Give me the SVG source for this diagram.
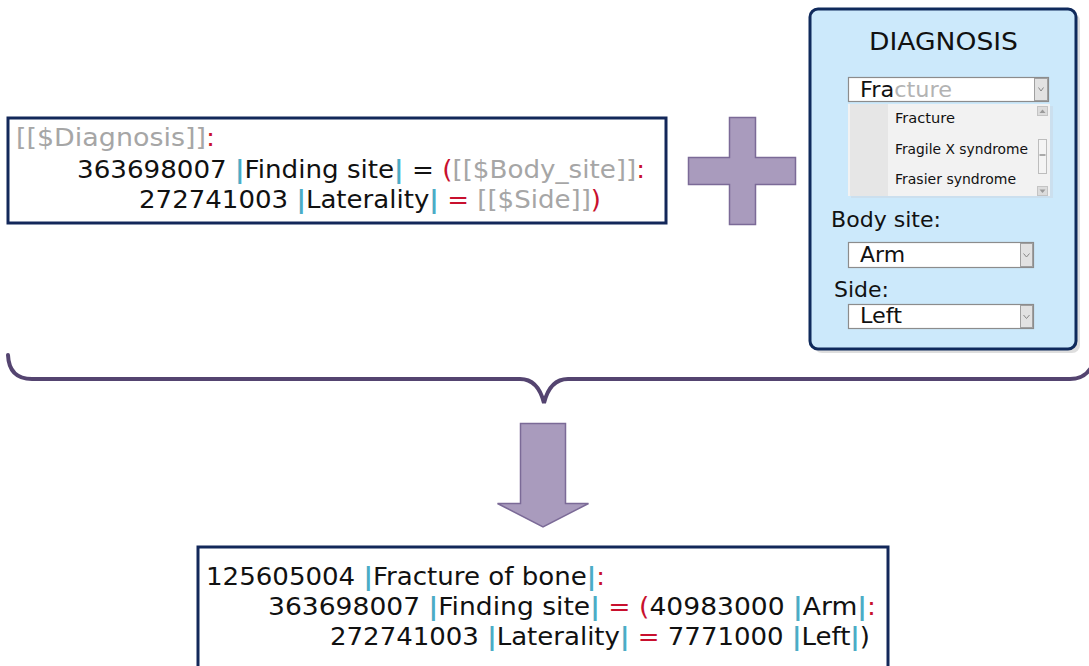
<svg xmlns="http://www.w3.org/2000/svg" width="1089" height="666" viewBox="0 0 1089 666">
<defs>
<style>
.t{font-family:"DejaVu Sans","Liberation Sans",sans-serif;font-size:24px;fill:#111}
.g{fill:#a6a6a6}
.p{fill:#4bacc6;font-weight:bold}
.r{fill:#c8102e}
.box{fill:#fff;stroke:#13285a;stroke-width:3}
.ui{font-family:"DejaVu Sans","Liberation Sans",sans-serif;fill:#111}
.dd{fill:#fff;stroke:#8c8c8c;stroke-width:1.2}
.btn{fill:#e2e2e2;stroke:#a0a0a0;stroke-width:1}
.chev{fill:none;stroke:#888;stroke-width:1}
.shape{fill:#a99bbd;stroke:#7b6a97;stroke-width:1.5}
</style>
<linearGradient id="bg" x1="0" y1="0" x2="1" y2="0">
<stop offset="0" stop-color="#f2f2f2"/><stop offset="1" stop-color="#d4d4d4"/>
</linearGradient>
</defs>

<g id="template">
<rect class="box" x="8" y="118" width="658" height="105"/>
<text class="t" x="16" y="146" textLength="199" lengthAdjust="spacingAndGlyphs"><tspan class="g">[[$Diagnosis]]</tspan><tspan class="r">:</tspan></text>
<text class="t" x="77" y="178" textLength="568" lengthAdjust="spacingAndGlyphs">363698007 <tspan class="p">|</tspan>Finding site<tspan class="p">|</tspan> = <tspan class="r">(</tspan><tspan class="g">[[$Body_site]]</tspan><tspan class="r">:</tspan></text>
<text class="t" x="139" y="208" textLength="462" lengthAdjust="spacingAndGlyphs">272741003 <tspan class="p">|</tspan>Laterality<tspan class="p">|</tspan> <tspan class="r">=</tspan> <tspan class="g">[[$Side]]</tspan><tspan class="r">)</tspan></text>
</g>

<g id="plus">
<path class="shape" d="M729.5,117.5 H755.5 V157.5 H795.5 V184.5 H755.5 V224.5 H729.5 V184.5 H688.5 V157.5 H729.5 Z"/>
</g>

<g id="form">
<rect x="814" y="13" width="266" height="340" rx="8" fill="#c8c8c8" opacity="0.6"/>
<rect x="810" y="9" width="266" height="340" rx="8" fill="#cce9fb" stroke="#0f2a5c" stroke-width="3"/>
<text class="ui" x="869" y="50" font-size="24" textLength="149" lengthAdjust="spacingAndGlyphs">DIAGNOSIS</text>

<rect class="dd" x="848.5" y="77.5" width="200" height="24"/>
<rect class="btn" x="1034.5" y="78.5" width="13" height="22" fill="url(#bg)"/>
<path class="chev" d="M1038.5,87.5 L1041,91 L1043.5,87.5"/>
<text class="ui" x="860" y="97" font-size="21" textLength="92" lengthAdjust="spacingAndGlyphs">Fra<tspan fill="#b3b3b3">cture</tspan></text>

<rect x="851" y="106" width="202" height="92" fill="#c9d9e6" opacity="0.6"/>
<rect x="848" y="104" width="202" height="92" fill="#f2f2f2"/>
<rect x="850" y="104" width="38" height="92" fill="#e6e6e6"/>
<text class="ui" x="895" y="123" font-size="14" textLength="60" lengthAdjust="spacingAndGlyphs">Fracture</text>
<text class="ui" x="895" y="154" font-size="14" textLength="133" lengthAdjust="spacingAndGlyphs">Fragile X syndrome</text>
<text class="ui" x="895" y="184" font-size="14" textLength="121" lengthAdjust="spacingAndGlyphs">Frasier syndrome</text>
<rect x="1037.5" y="106.5" width="10" height="9" fill="#dcdcdc" stroke="#c4c4c4"/>
<path d="M1039.5,113 L1042.5,109.5 L1045.5,113 Z" fill="#9a9a9a"/>
<rect x="1038.5" y="139.5" width="8" height="34" fill="#f4f4f4" stroke="#bdbdbd"/>
<rect x="1039.5" y="154" width="6" height="2" fill="#aaa"/>
<rect x="1037.5" y="186.5" width="10" height="9" fill="#dcdcdc" stroke="#c4c4c4"/>
<path d="M1039.5,189.5 L1042.5,193 L1045.5,189.5 Z" fill="#9a9a9a"/>

<text class="ui" x="831" y="227" font-size="22" textLength="110" lengthAdjust="spacingAndGlyphs">Body site:</text>
<rect class="dd" x="848.5" y="242.5" width="185" height="25"/>
<rect class="btn" x="1020.5" y="243.5" width="12" height="23" fill="url(#bg)"/>
<path class="chev" d="M1023.5,253.5 L1026.5,257 L1029.5,253.5"/>
<text class="ui" x="860" y="262" font-size="22" textLength="45" lengthAdjust="spacingAndGlyphs">Arm</text>

<text class="ui" x="834" y="297" font-size="22" textLength="55" lengthAdjust="spacingAndGlyphs">Side:</text>
<rect class="dd" x="848.5" y="304.5" width="185" height="24"/>
<rect class="btn" x="1020.5" y="305.5" width="12" height="22" fill="url(#bg)"/>
<path class="chev" d="M1023.5,315 L1026.5,318.5 L1029.5,315"/>
<text class="ui" x="860" y="323" font-size="22" textLength="42" lengthAdjust="spacingAndGlyphs">Left</text>
</g>

<g id="connectors">
<path d="M8,355 Q9,379 32,379 H520 Q538,379 544,403 Q550,379 568,379 H1070 Q1085,379 1092,366" fill="none" stroke="#544470" stroke-width="4" stroke-linecap="round"/>
<path class="shape" d="M520.5,423.5 H565.5 V503.5 H588.5 L543,527 L497.5,503.5 H520.5 Z"/>
</g>

<g id="result">
<rect class="box" x="198" y="547" width="690" height="125"/>
<text class="t" x="206" y="585" textLength="399" lengthAdjust="spacingAndGlyphs">125605004 <tspan class="p">|</tspan>Fracture of bone<tspan class="p">|</tspan><tspan class="r">:</tspan></text>
<text class="t" x="268" y="615" textLength="608" lengthAdjust="spacingAndGlyphs">363698007 <tspan class="p">|</tspan>Finding site<tspan class="p">|</tspan> <tspan class="r">= (</tspan>40983000 <tspan class="p">|</tspan>Arm<tspan class="p">|</tspan><tspan class="r">:</tspan></text>
<text class="t" x="330" y="645" textLength="540" lengthAdjust="spacingAndGlyphs">272741003 <tspan class="p">|</tspan>Laterality<tspan class="p">|</tspan> <tspan class="r">=</tspan> 7771000 <tspan class="p">|</tspan>Left<tspan class="p">|</tspan>)</text>
</g>
</svg>
